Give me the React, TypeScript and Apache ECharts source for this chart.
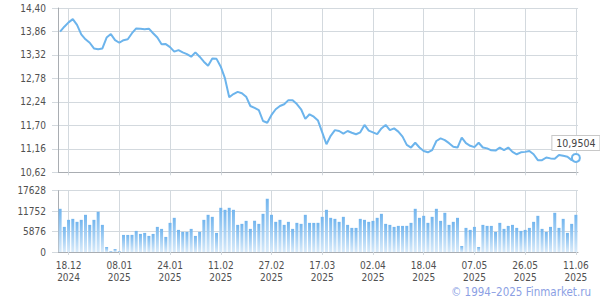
import React, { useEffect, useRef } from "react";
import * as echarts from "echarts";

const holidays = ["2025-01-01", "2025-01-02", "2025-01-07", "2025-05-01", "2025-05-09"];

function buildTradingDays(start: [number, number, number], end: [number, number, number]): string[] {
  const out: string[] = [];
  const d = new Date(Date.UTC(start[0], start[1] - 1, start[2]));
  const e = new Date(Date.UTC(end[0], end[1] - 1, end[2]));
  while (d.getTime() <= e.getTime()) {
    const wd = d.getUTCDay();
    const iso = d.toISOString().slice(0, 10);
    if (wd !== 0 && wd !== 6 && holidays.indexOf(iso) < 0) out.push(iso);
    d.setUTCDate(d.getUTCDate() + 1);
  }
  return out;
}

const dates = buildTradingDays([2024, 12, 16], [2025, 6, 11]);

const rate = [
  13.855, 13.97, 14.07, 14.145, 14.01, 13.795, 13.68, 13.6, 13.47, 13.45,
  13.47, 13.72, 13.8, 13.66, 13.6, 13.66, 13.68, 13.82, 13.93, 13.925,
  13.91, 13.925, 13.82, 13.72, 13.565, 13.57, 13.5, 13.395, 13.43, 13.38,
  13.34, 13.28, 13.38, 13.28, 13.165, 13.07, 13.24, 13.23, 13.05, 12.78,
  12.345, 12.42, 12.47, 12.44, 12.36, 12.146, 12.1, 12.05, 11.8, 11.76,
  11.94, 12.07, 12.146, 12.185, 12.28, 12.28, 12.19, 12.07, 11.85, 11.955,
  11.9, 11.81, 11.54, 11.265, 11.46, 11.59, 11.57, 11.51, 11.57, 11.53,
  11.495, 11.54, 11.71, 11.58, 11.54, 11.5, 11.63, 11.71, 11.59, 11.63,
  11.555, 11.44, 11.25, 11.19, 11.3, 11.19, 11.11, 11.08, 11.13, 11.34,
  11.4, 11.36, 11.29, 11.21, 11.19, 11.42, 11.29, 11.23, 11.2, 11.3,
  11.19, 11.17, 11.125, 11.12, 11.19, 11.13, 11.19, 11.09, 11.035, 11.08,
  11.09, 11.11, 11.035, 10.9, 10.9, 10.96, 10.94, 10.93, 11.02, 11.0,
  10.98, 10.9, 10.9504,
];

const volume = [
  12420, 7220, 9245, 9530, 8670, 9245, 10690, 7800, 9245, 11556,
  7800, 1444, 290, 867, 290, 4911, 4905, 4918, 6067, 5200,
  5490, 4622, 5200, 7220, 6645, 4334, 8378, 9823, 6356, 5778,
  5770, 6645, 4622, 5778, 9245, 10690, 10110, 5490, 12710, 12130,
  12710, 12130, 7800, 8090, 8955, 6645, 8955, 8090, 10980, 15310,
  10690, 8670, 9245, 7800, 8670, 6645, 8378, 8090, 10690, 8378,
  8370, 8385, 10110, 12130, 9823, 9530, 8670, 10110, 7800, 6934,
  6930, 9530, 9245, 8670, 8955, 9823, 10980, 8090, 7800, 7220,
  7510, 7505, 7515, 8378, 12420, 9823, 10400, 8378, 10110, 12420,
  8955, 11270, 7800, 8670, 9823, 1733, 6934, 6356, 7220, 1444,
  7800, 7510, 7505, 5778, 8378, 6645, 7510, 7800, 6934, 6067,
  6356, 6934, 8670, 10400, 6645, 5778, 7220, 11270, 6934, 9530,
  5490, 8090, 10690,
];

const rateAxis = { min: 10.62, max: 14.4, step: 0.54 };
const volumeAxis = { min: 0, max: 17628, step: 5876 };
const copyright = "© 1994–2025 Finmarket.ru";

const FONT = '"DejaVu Sans Condensed", "DejaVu Sans", sans-serif';
const gridColor = "#d3d9de";
const axisColor = "#a9adb2";
const labelColor = "#505050";
const lineColor = "#6cb4ec";

export default function App() {
  const ref = useRef<HTMLDivElement>(null);
  useEffect(() => {
    document.body.style.margin = "0";
    if (!ref.current) return;
    const chart = echarts.init(ref.current, undefined, { renderer: "svg" });
    const tickInt = (i: number) => (i - 2) % 12 === 0;
    const fmtDate = (v: string) => {
      const [y, m, d] = v.split("-");
      return `${d}.${m}\n${y}`;
    };
    const last = rate.length - 1;
    const xBase = {
      type: "category" as const,
      data: dates,
      boundaryGap: true,
      axisLine: { lineStyle: { color: axisColor, width: 1 } },
      axisTick: { show: true, alignWithLabel: true, interval: tickInt, length: 3, lineStyle: { color: gridColor } },
      splitLine: { show: true, alignWithLabel: true, interval: tickInt, lineStyle: { color: gridColor, width: 1 } },
    };
    const yBase = {
      type: "value" as const,
      axisLine: { show: true, lineStyle: { color: axisColor } },
      axisTick: { show: true, length: 6, lineStyle: { color: gridColor } },
      splitLine: { show: true, lineStyle: { color: gridColor, width: 1 } },
    };
    chart.setOption({
      animation: false,
      textStyle: { fontFamily: FONT },
      grid: [
        { left: 58, right: 22, top: 8, height: 164.3 },
        { left: 58, right: 22, top: 190.7, height: 61.3 },
      ],
      xAxis: [
        { ...xBase, gridIndex: 0, axisLabel: { show: false } },
        {
          ...xBase,
          gridIndex: 1,
          axisLabel: {
            show: true,
            interval: tickInt,
            formatter: fmtDate,
            color: labelColor,
            fontSize: 10,
            lineHeight: 12,
            margin: 7,
            fontFamily: FONT,
          },
        },
      ],
      yAxis: [
        {
          ...yBase,
          gridIndex: 0,
          min: rateAxis.min,
          max: rateAxis.max,
          interval: rateAxis.step,
          axisLabel: {
            formatter: (v: number) => v.toFixed(2).replace(".", ","),
            color: labelColor,
            fontSize: 10,
            margin: 12,
            fontFamily: FONT,
          },
        },
        {
          ...yBase,
          gridIndex: 1,
          min: volumeAxis.min,
          max: volumeAxis.max,
          interval: volumeAxis.step,
          axisLabel: {
            formatter: (v: number) => String(Math.round(v)),
            color: labelColor,
            fontSize: 10,
            margin: 12,
            fontFamily: FONT,
          },
        },
      ],
      series: [
        {
          type: "line",
          xAxisIndex: 0,
          yAxisIndex: 0,
          data: rate,
          symbol: "none",
          lineStyle: { color: lineColor, width: 2 },
          itemStyle: { color: lineColor },
          markPoint: {
            animation: false,
            data: [
              {
                coord: [last, rate[last]],
                symbol: "circle",
                symbolSize: 8,
                itemStyle: { color: "#ffffff", borderColor: lineColor, borderWidth: 2 },
                label: {
                  show: true,
                  position: "top",
                  distance: 3,
                  formatter: () => String(rate[last]).replace(".", ","),
                  color: "#444",
                  fontSize: 10.5,
                  fontFamily: FONT,
                  backgroundColor: "#ffffff",
                  borderColor: "#c8c8c8",
                  borderWidth: 1,
                  padding: [2, 4, 1, 4],
                },
              },
            ],
          },
        },
        {
          type: "bar",
          xAxisIndex: 1,
          yAxisIndex: 1,
          data: volume,
          barWidth: 3,
          itemStyle: {
            color: new echarts.graphic.LinearGradient(0, 0, 0, 1, [
              { offset: 0, color: "#72b5ee" },
              { offset: 1, color: "#d9ebfa" },
            ]),
          },
        },
      ],
      graphic: [
        {
          type: "text",
          right: 9,
          top: 286,
          style: {
            text: copyright,
            fill: "#8c9fe4",
            font: `11.5px ${FONT}`,
          },
        },
      ],
    });
    return () => chart.dispose();
  }, []);
  return <div ref={ref} style={{ width: 600, height: 300 }} />;
}
